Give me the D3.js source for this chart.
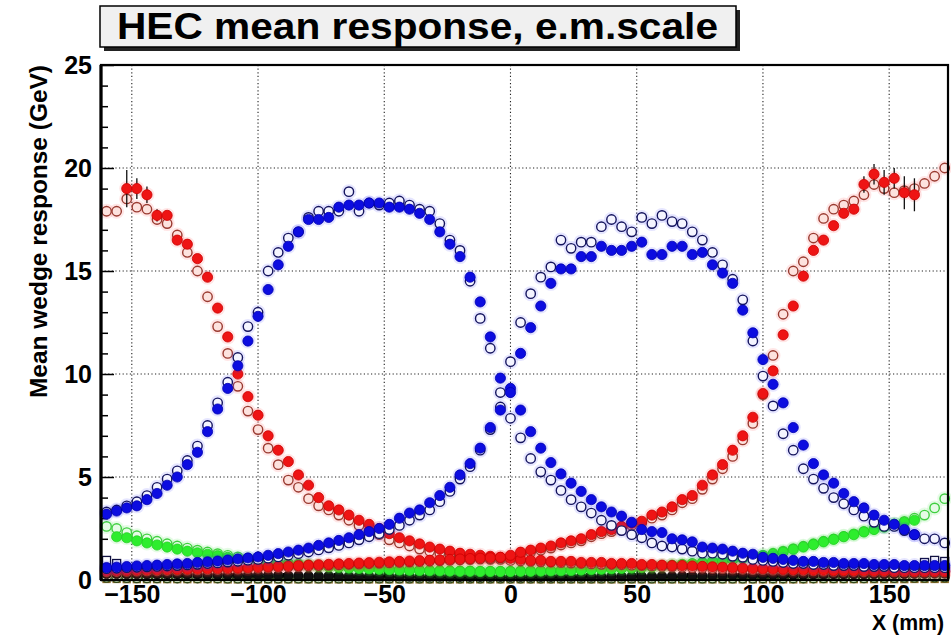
<!DOCTYPE html>
<html><head><meta charset="utf-8">
<script src="https://cdn.jsdelivr.net/npm/d3@7"></script>
<style>body{margin:0;background:#fff;} svg{display:block;font-family:"Liberation Sans",Arial,Helvetica,sans-serif;}</style>
</head><body><svg id="c" width="951" height="636"></svg>
<script>
// ---------- data ----------
const titleText = "HEC mean response, e.m.scale";
const xTitle = "X (mm)";
const yTitle = "Mean wedge response (GeV)";
const xTickValues = [-150,-100,-50,0,50,100,150];
const yTickValues = [0,5,10,15,20,25];

const xBins = [-160,-156,-152,-148,-144,-140,-136,-132,-128,-124,
  -120,-116,-112,-108,-104,-100,-96,-92,-88,-84,
  -80,-76,-72,-68,-64,-60,-56,-52,-48,-44,
  -40,-36,-32,-28,-24,-20,-16,-12,-8,-4,
  0,4,8,12,16,20,24,28,32,36,
  40,44,48,52,56,60,64,68,72,76,
  80,84,88,92,96,100,104,108,112,116,
  120,124,128,132,136,140,144,148,152,156,
  160,164,168,172];

const blueCFilled = [3.2,3.35,3.5,3.6,3.9,4.2,4.6,5.0,5.6,6.2,
  7.2,8.3,9.3,10.4,11.6,12.8,14.1,15.3,16.2,16.9,
  17.5,17.5,17.6,18.1,18.2,18.2,18.3,18.3,18.1,18.1,
  18.0,17.8,17.5,16.9,16.3,15.7,14.7,13.5,11.8,9.8,
  9.3,8.25,7.2,6.4,5.7,5.15,4.7,4.3,3.9,3.55,
  3.3,3.1,2.8,2.45,2.35,2.3,2.0,1.95,1.85,1.6,
  1.55,1.5,1.4,1.3,1.25,1.1,1.05,1.0,0.95,0.9,
  0.9,0.85,0.85,0.8,0.8,0.8,0.75,0.75,0.75,0.7,
  0.7,0.7,0.7,0.7];
const blueCOpen = [3.3,3.4,3.6,3.8,4.1,4.5,4.9,5.3,5.8,6.5,
  7.5,8.6,9.6,10.8,12.3,13.0,15.0,15.9,16.6,16.9,
  17.6,17.9,17.9,17.9,18.85,17.9,18.3,18.2,18.3,18.4,
  18.2,18.0,17.9,17.3,16.5,16.0,14.5,12.7,11.25,9.1,
  7.85,6.9,5.9,5.25,4.85,4.35,3.9,3.55,3.25,2.9,
  2.65,2.4,2.2,2.05,1.8,1.65,1.6,1.5,1.4,1.3,
  1.3,1.25,1.15,1.1,1.0,0.95,0.9,0.85,0.8,0.8,
  0.75,0.75,0.7,0.7,0.7,0.65,0.65,0.65,0.6,0.6,
  0.6,0.6,0.6,0.6];
const blueDFilled = [0.6,0.62,0.65,0.68,0.7,0.72,0.75,0.78,0.8,0.85,
  0.88,0.92,0.97,1.02,1.07,1.12,1.2,1.28,1.36,1.45,
  1.55,1.68,1.8,1.92,2.05,2.2,2.35,2.5,2.7,3.0,
  3.25,3.4,3.75,4.1,4.5,5.1,5.65,6.4,7.4,8.25,
  9.1,11.0,12.25,13.3,14.4,15.1,15.1,15.7,15.7,16.2,
  16.0,16.0,16.2,16.4,15.8,15.8,16.2,16.2,15.8,15.9,
  15.3,14.9,14.4,13.1,12.0,10.7,9.5,8.6,7.4,6.55,
  5.65,5.1,4.7,4.2,3.8,3.5,3.15,2.9,2.7,2.45,
  2.2,null,null,null];
const blueDOpen = [0.55,0.57,0.6,0.62,0.64,0.66,0.68,0.7,0.73,0.76,
  0.8,0.83,0.87,0.91,0.96,1.0,1.06,1.12,1.2,1.28,
  1.36,1.46,1.56,1.68,1.8,1.95,2.1,2.25,2.45,2.65,
  2.9,3.15,3.4,3.8,4.3,4.9,5.5,6.3,7.3,8.4,
  10.6,12.5,13.9,14.7,15.2,16.5,16.1,16.4,16.4,17.15,
  17.5,17.15,16.9,17.6,17.3,17.7,17.4,17.3,16.9,16.5,
  15.9,15.3,14.6,13.6,11.6,9.9,8.45,7.1,6.3,5.4,
  4.9,4.45,4.0,3.7,3.4,3.1,2.8,2.6,2.6,2.4,
  2.2,2.0,2.0,1.8];
const redLFilled = [null,null,19.0,19.0,18.7,17.7,17.7,16.5,16.3,15.6,
  14.7,13.2,11.8,10.0,8.9,8.0,7.0,6.3,5.75,5.1,
  4.6,4.0,3.6,3.4,3.15,2.9,2.7,2.5,2.25,2.05,
  1.9,1.75,1.6,1.5,1.4,1.3,1.25,1.2,1.15,1.1,
  1.05,1.0,0.95,0.95,0.9,0.9,0.9,0.85,0.85,0.85,
  0.8,0.8,0.8,0.75,0.75,0.72,0.7,0.7,0.68,0.66,
  0.64,0.62,0.6,0.58,0.56,0.55,0.54,0.52,0.5,0.5,
  0.48,0.48,0.46,0.46,0.45,0.45,0.44,0.44,0.43,0.43,
  0.42,0.42,0.42,0.42];
const redLOpen = [17.9,17.9,18.5,18.1,18.0,17.5,17.3,16.75,15.9,15.0,
  13.75,12.3,11.0,9.4,8.2,7.3,6.4,5.6,4.85,4.5,
  3.95,3.6,3.4,3.15,2.9,2.65,2.4,2.2,1.95,1.8,
  1.65,1.5,1.4,1.3,1.2,1.15,1.1,1.05,1.0,1.0,
  0.95,0.92,0.9,0.88,0.86,0.84,0.82,0.8,0.78,0.76,
  0.75,0.74,0.72,0.7,0.68,0.66,0.64,0.62,0.6,0.58,
  0.56,0.55,0.54,0.52,0.5,0.5,0.48,0.47,0.46,0.45,
  0.44,0.43,0.42,0.42,0.41,0.4,0.4,0.4,0.39,0.39,
  0.38,0.38,0.38,0.38];
const redRFilled = [0.45,0.46,0.47,0.48,0.49,0.5,0.51,0.52,0.53,0.54,
  0.55,0.56,0.57,0.58,0.6,0.62,0.64,0.66,0.68,0.7,
  0.72,0.74,0.76,0.78,0.8,0.82,0.84,0.86,0.88,0.9,
  0.92,0.94,0.96,0.98,1.0,1.02,1.04,1.06,1.08,1.1,
  1.2,1.35,1.45,1.55,1.65,1.8,1.9,2.0,2.2,2.35,
  2.45,2.6,2.75,2.85,3.15,3.3,3.55,3.9,4.1,4.6,
  5.1,5.6,6.3,7.0,7.9,9.05,10.15,11.9,13.3,14.75,
  16.0,16.5,17.2,17.8,18.0,19.2,19.7,19.3,19.5,18.8,
  18.7,null,null,null];
const redROpen = [0.4,0.41,0.42,0.43,0.44,0.45,0.46,0.47,0.48,0.49,
  0.5,0.51,0.52,0.53,0.55,0.57,0.59,0.61,0.63,0.65,
  0.67,0.69,0.71,0.73,0.75,0.77,0.79,0.81,0.83,0.85,
  0.87,0.89,0.91,0.93,0.95,0.97,0.99,1.01,1.03,1.05,
  1.12,1.25,1.35,1.45,1.55,1.7,1.8,1.9,2.1,2.25,
  2.35,2.5,2.65,2.75,3.0,3.15,3.4,3.75,3.95,4.4,
  4.9,5.4,6.0,6.8,7.6,9.0,10.9,12.9,15.0,15.45,
  16.6,17.55,18.0,18.2,18.4,18.7,19.2,19.0,18.8,18.9,
  19.0,19.25,19.6,20.0];
const greenFilled = [null,2.1,2.05,1.9,1.8,1.7,1.6,1.5,1.4,1.32,
  1.25,1.18,1.1,1.02,0.96,0.9,0.86,0.82,0.78,0.74,
  0.7,0.67,0.64,0.61,0.58,0.56,0.54,0.52,0.5,0.48,
  0.47,0.46,0.45,0.44,0.43,0.42,0.42,0.41,0.41,0.41,
  0.41,0.42,0.42,0.43,0.44,0.45,0.46,0.48,0.5,0.52,
  0.54,0.56,0.58,0.6,0.63,0.66,0.7,0.74,0.78,0.83,
  0.88,0.93,0.98,1.04,1.1,1.17,1.25,1.35,1.48,1.6,
  1.72,1.85,1.97,2.1,2.2,2.33,2.45,2.57,2.7,2.8,
  2.9,null,null,null];
const greenOpen = [2.6,2.5,2.3,2.15,2.0,1.88,1.76,1.65,1.55,1.45,
  1.36,1.28,1.2,1.12,1.05,0.98,0.92,0.87,0.82,0.78,
  0.74,0.7,0.67,0.64,0.61,0.58,0.56,0.54,0.52,0.5,
  0.49,0.48,0.47,0.46,0.45,0.44,0.44,0.43,0.43,0.43,
  0.43,0.44,0.44,0.45,0.46,0.47,0.48,0.5,0.52,0.54,
  0.56,0.58,0.6,0.63,0.66,0.69,0.73,0.77,0.81,0.86,
  0.91,0.96,1.02,1.08,1.14,1.21,1.3,1.4,1.52,1.64,
  1.76,1.88,2.0,2.12,2.24,2.36,2.48,2.6,2.72,2.85,
  3.0,3.15,3.5,3.95];
const blackFilled = [0.30,0.30,0.29,0.29,0.28,0.28,0.27,0.27,0.26,0.26,
  0.25,0.25,0.24,0.24,0.23,0.23,0.22,0.22,0.21,0.21,
  0.20,0.20,0.20,0.19,0.19,0.19,0.18,0.18,0.18,0.18,
  0.17,0.17,0.17,0.17,0.17,0.16,0.16,0.16,0.16,0.16,
  0.16,0.16,0.16,0.16,0.16,0.17,0.17,0.17,0.17,0.17,
  0.18,0.18,0.18,0.18,0.19,0.19,0.19,0.20,0.20,0.20,
  0.21,0.21,0.22,0.22,0.23,0.23,0.24,0.24,0.25,0.25,
  0.26,0.26,0.27,0.27,0.28,0.28,0.29,0.29,0.30,0.30,
  0.31,0.31,0.32,0.32];
const oliveOpen = [0.12,0.11,0.11,0.1,0.1,0.1,0.1,0.09,0.09,0.09,
  0.09,0.09,0.08,0.08,0.08,0.08,0.08,0.08,0.08,0.08,
  0.08,0.08,0.08,0.08,0.08,0.08,0.08,0.08,0.08,0.08,
  0.08,0.08,0.08,0.08,0.08,0.08,0.08,0.08,0.08,0.08,
  0.08,0.08,0.08,0.08,0.08,0.08,0.08,0.08,0.08,0.08,
  0.08,0.08,0.08,0.08,0.08,0.08,0.08,0.08,0.08,0.08,
  0.08,0.08,0.08,0.08,0.08,0.09,0.09,0.09,0.09,0.09,
  0.09,0.1,0.1,0.1,0.1,0.1,0.11,0.11,0.11,0.12,
  0.12,0.12,0.13,0.13];
const tanSquares = [0.05,0.05,0.04,0.04,0.04,0.04,0.04,0.04,0.04,0.04,
  0.04,0.04,0.03,0.03,0.03,0.03,0.03,0.03,0.03,0.03,
  0.03,0.03,0.03,0.03,0.03,0.03,0.03,0.03,0.03,0.03,
  0.03,0.03,0.03,0.03,0.03,0.03,0.03,0.03,0.03,0.03,
  0.03,0.03,0.03,0.03,0.03,0.03,0.03,0.03,0.03,0.03,
  0.03,0.03,0.03,0.03,0.03,0.03,0.03,0.03,0.03,0.03,
  0.03,0.03,0.03,0.03,0.03,0.03,0.03,0.03,0.03,0.03,
  0.04,0.04,0.04,0.04,0.04,0.04,0.04,0.04,0.04,0.04,
  0.05,0.05,0.05,0.05];
// sparse edge markers and error bars: [x, value]
const edgeSquaresHigh = [[-160,0.95],[-156,0.8],[164,0.85],[168,0.95],[172,0.9]];
const edgeSquaresLow = [[-160,0.55],[-156,0.45],[164,0.4],[168,0.45],[172,0.35]];
const redLFilledErr = [[-152,0.9],[-148,0.5],[-144,0.4],[-140,0.3]];
const redRFilledErr = [[140,0.4],[144,0.5],[148,0.6],[152,0.5],[156,0.8],[160,0.8]];

// ---------- drawing ----------
const svg = d3.select('#c');
const m = {l:101, r:948, t:65, b:580};
const x = d3.scaleLinear().domain([-162.2,173.3]).range([m.l,m.r]);
const y = d3.scaleLinear().domain([0,25]).range([m.b,m.t]);

// title pave
svg.append('rect').attr('x',104).attr('y',10).attr('width',636).attr('height',41).attr('fill','#222');
svg.append('rect').attr('x',100).attr('y',6).attr('width',636).attr('height',41)
  .attr('fill','#f0f0f0').attr('stroke','#000').attr('stroke-width',1.5);
svg.append('text').attr('x',117).attr('y',39).attr('font-size',37).attr('font-weight','bold')
  .attr('textLength',601).attr('lengthAdjust','spacingAndGlyphs').text(titleText);

// grid
const grid = svg.append('g').attr('stroke','#222').attr('stroke-width',1.1).attr('stroke-dasharray','1.2,2.4');
grid.selectAll('.gx').data(xTickValues).join('line')
  .attr('x1',d=>x(d)).attr('x2',d=>x(d)).attr('y1',m.t).attr('y2',m.b);
grid.selectAll('.gy').data(yTickValues.filter(v=>v>0&&v<25)).join('line')
  .attr('y1',d=>y(d)).attr('y2',d=>y(d)).attr('x1',m.l).attr('x2',m.r);

// axes
const yMinor = d3.range(1,25).filter(v=>v%5!==0);
const xMinor = d3.range(-160,175,10).filter(v=>v%50!==0);
const ax = svg.append('g');
function styleAxis(g){ g.select('.domain').remove(); g.selectAll('line').attr('stroke','#000').attr('stroke-width',1.5);
  g.selectAll('text').attr('font-size',25).attr('font-weight','bold').attr('fill','#000').attr('font-family','"Liberation Sans",Arial,sans-serif'); }
ax.append('g').attr('transform',`translate(${m.l},0)`)
  .call(d3.axisLeft(y).tickValues(yTickValues).tickSize(-13).tickPadding(9).tickFormat(d3.format('d'))).call(styleAxis);
ax.append('g').attr('transform',`translate(${m.l},0)`)
  .call(d3.axisLeft(y).tickValues(yMinor).tickSize(-7).tickFormat('')).call(styleAxis);
ax.append('g').attr('transform',`translate(0,${m.b})`)
  .call(d3.axisBottom(x).tickValues(xTickValues).tickSize(-13).tickPadding(5).tickFormat(d3.format('d'))).call(styleAxis);
ax.append('g').attr('transform',`translate(0,${m.b})`)
  .call(d3.axisBottom(x).tickValues(xMinor).tickSize(-7).tickFormat('')).call(styleAxis);

// titles
svg.append('text').attr('transform',`translate(47,398) rotate(-90)`).attr('font-size',24).attr('font-weight','bold')
  .attr('textLength',333).attr('lengthAdjust','spacingAndGlyphs').text(yTitle);
svg.append('text').attr('x',872).attr('y',630).attr('font-size',22).attr('font-weight','bold')
  .attr('textLength',72).attr('lengthAdjust','spacingAndGlyphs').text(xTitle);

// markers
const plot = svg.append('g');
function pts(vals){ return xBins.map((xv,i)=>({x:xv,y:vals[i]})).filter(d=>d.y!=null); }
function halo(vals,color){
  plot.append('g').selectAll('circle').data(pts(vals)).join('circle')
    .attr('cx',d=>x(d.x)).attr('cy',d=>y(d.y)).attr('r',7.5).attr('fill',color).attr('opacity',0.12);
}
function circles(vals,fill,stroke,r,sw){
  plot.append('g').selectAll('circle').data(pts(vals)).join('circle')
    .attr('cx',d=>x(d.x)).attr('cy',d=>y(d.y)).attr('r',r).attr('fill',fill).attr('stroke',stroke).attr('stroke-width',sw);
}
function squares(data,fill,stroke,s){
  plot.append('g').selectAll('rect').data(data).join('rect')
    .attr('x',d=>x(d.x)-s/2).attr('y',d=>y(d.y)-s/2).attr('width',s).attr('height',s)
    .attr('fill',fill).attr('stroke',stroke).attr('stroke-width',1.3);
}
function errs(list,vals){
  plot.append('g').selectAll('line').data(list).join('line')
    .attr('x1',d=>x(d[0])).attr('x2',d=>x(d[0]))
    .attr('y1',d=>y(vals[xBins.indexOf(d[0])]-d[1])).attr('y2',d=>y(vals[xBins.indexOf(d[0])]+d[1]))
    .attr('stroke','#111').attr('stroke-width',1.3);
}

squares(pts(tanSquares),'#efe6c4','#8a6a28',7);
circles(oliveOpen,'#d8e8c8','#2f4a1a',4.6,1.3);
circles(blackFilled,'#111','#000',4.8,0.8);
squares(edgeSquaresHigh.map(d=>({x:d[0],y:d[1]})),'#fff','#101040',8);
squares(edgeSquaresLow.map(d=>({x:d[0],y:d[1]})),'#fff','#202020',8);

halo(greenOpen,'#33dd33'); halo(greenFilled,'#33dd33');
circles(greenOpen,'#e6fbe6','#3fcf3f',4.7,1.4);
circles(greenFilled,'#2ded2d','#22d022',5.1,0.8);

halo(redLOpen,'#ff3030'); halo(redROpen,'#ff3030'); halo(redLFilled,'#ff3030'); halo(redRFilled,'#ff3030');
circles(redLOpen,'#fde2de','#9a3a30',4.7,1.4);
circles(redROpen,'#fde2de','#9a3a30',4.7,1.4);
errs(redLFilledErr,redLFilled); errs(redRFilledErr,redRFilled);
circles(redLFilled,'#ee1414','#cc0000',5.1,0.8);
circles(redRFilled,'#ee1414','#cc0000',5.1,0.8);

halo(blueCOpen,'#3030ff'); halo(blueDOpen,'#3030ff'); halo(blueCFilled,'#3030ff'); halo(blueDFilled,'#3030ff');
circles(blueCOpen,'#f4f4ff','#14145e',4.7,1.4);
circles(blueDOpen,'#f4f4ff','#14145e',4.7,1.4);
circles(blueCFilled,'#0c0ce0','#0000b0',5.1,0.8);
circles(blueDFilled,'#0c0ce0','#0000b0',5.1,0.8);

// frame
svg.append('rect').attr('x',m.l).attr('y',m.t).attr('width',m.r-m.l).attr('height',m.b-m.t)
  .attr('fill','none').attr('stroke','#000').attr('stroke-width',2.2);
svg.append('line').attr('x1',m.l).attr('x2',m.l).attr('y1',m.t).attr('y2',m.b).attr('stroke','#000').attr('stroke-width',3.2);
</script></body></html>
